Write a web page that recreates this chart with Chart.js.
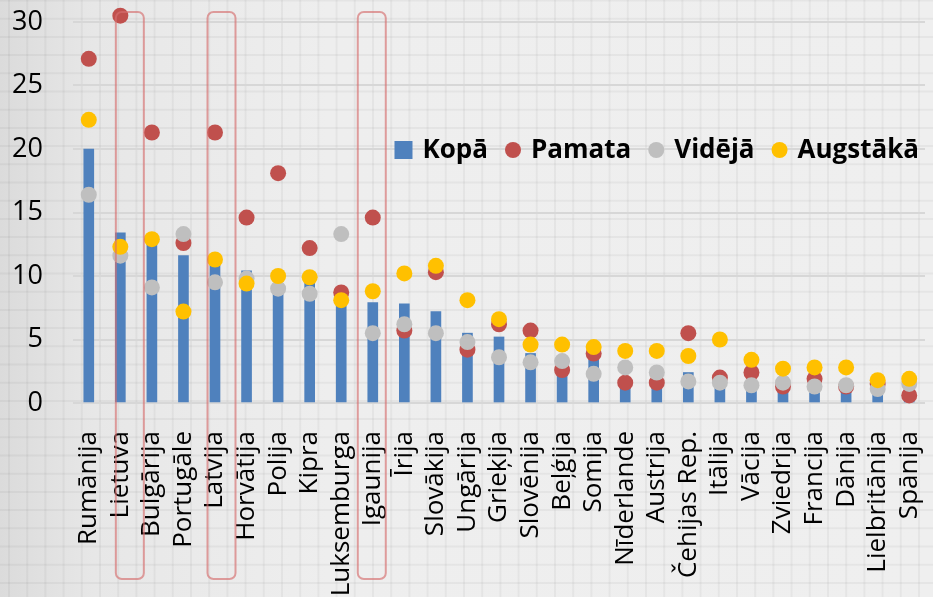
<!DOCTYPE html>
<html>
<head>
<meta charset="utf-8">
<script src="https://cdn.jsdelivr.net/npm/chart.js@4.4.0/dist/chart.umd.min.js"></script>
<style>
  html, body { margin: 0; padding: 0; background: #ececec; }
  #grafiks { display: block; }
</style>
</head>
<body>
<canvas id="grafiks" width="933" height="597"></canvas>
<script>
const valstis = ['Rumānija', 'Lietuva', 'Bulgārija', 'Portugāle', 'Latvija', 'Horvātija', 'Polija',
  'Kipra', 'Luksemburga', 'Igaunija', 'Īrija', 'Slovākija', 'Ungārija', 'Grieķija', 'Slovēnija',
  'Beļģija', 'Somija', 'Nīderlande', 'Austrija', 'Čehijas Rep.', 'Itālija', 'Vācija', 'Zviedrija',
  'Francija', 'Dānija', 'Lielbritānija', 'Spānija'];

const kopa     = [20.0, 13.4, 12.6, 11.6, 10.9, 10.4, 9.3, 9.5, 8.6, 7.9, 7.8, 7.2, 5.5, 5.2, 3.9,
  3.0, 3.4, 2.0, 1.9, 2.4, 2.1, 1.7, 1.5, 1.5, 1.4, 1.3, 1.5];
const pamata   = [27.1, 30.5, 21.3, 12.6, 21.3, 14.6, 18.1, 12.2, 8.7, 14.6, 5.7, 10.3, 4.2, 6.2, 5.7,
  2.6, 3.9, 1.6, 1.6, 5.5, 2.0, 2.4, 1.3, 1.9, 1.3, 1.5, 0.6];
const videja   = [16.4, 11.6, 9.1, 13.3, 9.5, 9.8, 9.0, 8.6, 13.3, 5.5, 6.2, 5.5, 4.8, 3.6, 3.2,
  3.3, 2.3, 2.8, 2.4, 1.7, 1.6, 1.4, 1.6, 1.3, 1.4, 1.1, 1.5];
const augstaka = [22.3, 12.3, 12.9, 7.2, 11.3, 9.4, 10.0, 9.9, 8.1, 8.8, 10.2, 10.8, 8.1, 6.6, 4.6,
  4.6, 4.4, 4.1, 4.1, 3.7, 5.0, 3.4, 2.7, 2.8, 2.8, 1.8, 1.9];

const asisMin = 0;
const asisMax = 30;
const asisSolis = 5;

// Baltijas valstis, kas iezīmētas ar rāmi
const izceltas = ['Lietuva', 'Latvija', 'Igaunija'];

const fonts = '"Open Sans", "Noto Sans", sans-serif';

// rūtiņu fons zem visa grafika
const fonaPlugins = {
  id: 'rutinuFons',
  beforeDraw(chart) {
    const ctx = chart.ctx;
    const w = chart.width, h = chart.height;
    ctx.save();
    const grad = ctx.createLinearGradient(0, 0, w, 0);
    grad.addColorStop(0, '#dbdbdb');
    grad.addColorStop(0.1, '#e7e7e7');
    grad.addColorStop(0.35, '#eeeeee');
    grad.addColorStop(1, '#efefef');
    ctx.fillStyle = grad;
    ctx.fillRect(0, 0, w, h);
    ctx.strokeStyle = 'rgba(0,0,0,0.04)';
    ctx.lineWidth = 2;
    for (let x = 9; x < w; x += 18.2) {
      ctx.beginPath(); ctx.moveTo(x, 0); ctx.lineTo(x, h); ctx.stroke();
    }
    for (let y = 0.5; y < h; y += 18.2) {
      ctx.beginPath(); ctx.moveTo(0, y); ctx.lineTo(w, y); ctx.stroke();
    }
    ctx.restore();
  }
};

// apaļots rāmis ap izceltajām valstīm
const ramjuPlugins = {
  id: 'ramji',
  afterDraw(chart) {
    const ctx = chart.ctx;
    const x = chart.scales.x;
    const nobide = { 'Lietuva': 9.5, 'Latvija': 6.5, 'Igaunija': -1 };
    ctx.save();
    ctx.strokeStyle = 'rgba(214, 110, 110, 0.65)';
    ctx.lineWidth = 2;
    izceltas.forEach((v) => {
      const cx = x.getPixelForValue(valstis.indexOf(v)) + (nobide[v] || 0);
      ctx.beginPath();
      ctx.roundRect(cx - 14, 12, 28, 567, 6);
      ctx.stroke();
    });
    ctx.restore();
  }
};

// leģenda grafika iekšpusē, labajā pusē
const legendasPlugins = {
  id: 'legenda',
  afterDraw(chart) {
    const ctx = chart.ctx;
    ctx.save();
    ctx.font = 'bold 26px ' + fonts;
    ctx.textBaseline = 'middle';
    const yc = 150;
    const elementi = chart.data.datasets.map((ds) => ({
      teksts: ds.label,
      krasa: ds.backgroundColor,
      kvadrats: ds.type !== 'line',
      platums: ctx.measureText(ds.label).width
    }));
    let kopPlatums = 0;
    elementi.forEach((el, i) => {
      kopPlatums += (el.kvadrats ? 18 : 16) + 10 + el.platums + (i < elementi.length - 1 ? 17 : 0);
    });
    let x = chart.chartArea.right - 6 - kopPlatums;
    elementi.forEach((el) => {
      ctx.fillStyle = el.krasa;
      if (el.kvadrats) {
        ctx.fillRect(x, yc - 9, 18, 18);
        x += 18;
      } else {
        ctx.beginPath();
        ctx.arc(x + 8, yc, 8, 0, Math.PI * 2);
        ctx.fill();
        x += 16;
      }
      x += 10;
      ctx.fillStyle = '#000';
      ctx.fillText(el.teksts, x, yc + 1);
      x += el.platums + 17;
    });
    ctx.restore();
  }
};

function punkti(nosaukums, dati, krasa, kartiba) {
  return {
    type: 'line',
    label: nosaukums,
    data: dati,
    showLine: false,
    backgroundColor: krasa,
    borderColor: krasa,
    pointRadius: 8,
    pointHoverRadius: 8,
    pointBorderWidth: 0,
    clip: false,
    order: kartiba
  };
}

const grafiks = new Chart(document.getElementById('grafiks'), {
  type: 'bar',
  data: {
    labels: valstis,
    datasets: [
      {
        label: 'Kopā',
        data: kopa,
        backgroundColor: '#4f81bd',
        barThickness: 10,
        order: 3
      },
      punkti('Pamata', pamata, '#c0504d', 2),
      punkti('Vidējā', videja, '#bfbfbf', 1),
      punkti('Augstākā', augstaka, '#ffc000', 0)
    ]
  },
  options: {
    responsive: false,
    devicePixelRatio: 1,
    animation: false,
    layout: { padding: { top: 22, right: 5, left: 0, bottom: 0 } },
    plugins: {
      legend: { display: false },
      tooltip: { enabled: false }
    },
    scales: {
      x: {
        grid: { display: false },
        border: { display: false },
        ticks: {
          color: '#000',
          font: { family: fonts, size: 26 },
          autoSkip: false,
          minRotation: 90,
          maxRotation: 90,
          padding: 20
        },
        afterFit: (s) => {
          s.height = 194;
          s.paddingLeft = 0;
          s.paddingRight = 0;
        }
      },
      y: {
        min: asisMin,
        max: asisMax,
        grid: { color: '#d7d7d7', lineWidth: 2, drawTicks: false },
        border: { display: false },
        ticks: {
          stepSize: asisSolis,
          color: '#000',
          font: { family: fonts, size: 27 },
          padding: 30
        },
        afterFit: (s) => {
          s.width = 73;
          s.paddingTop = 0;
          s.paddingBottom = 0;
        }
      }
    }
  },
  plugins: [fonaPlugins, ramjuPlugins, legendasPlugins]
});
</script>
</body>
</html>
